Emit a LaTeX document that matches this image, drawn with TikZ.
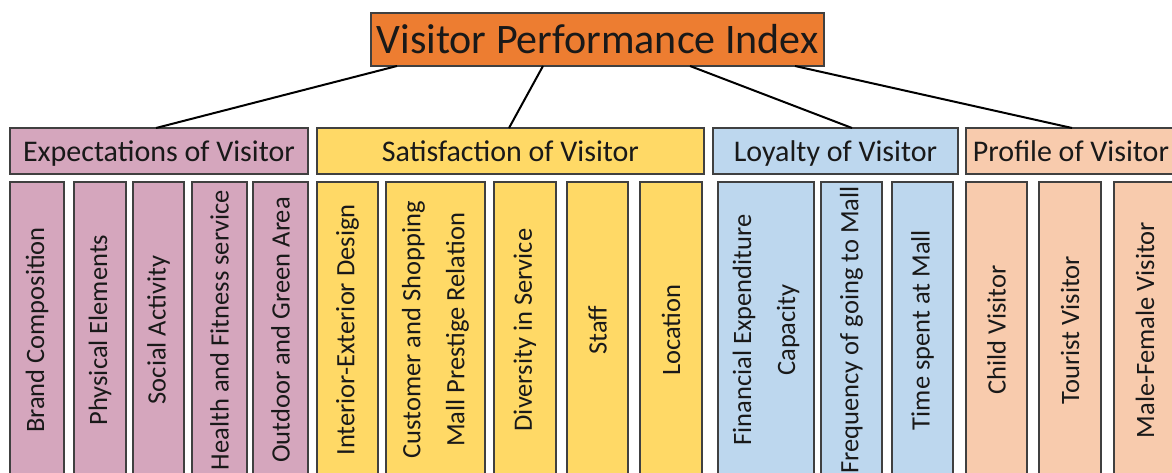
\documentclass[tikz,border=0pt]{standalone}
\usepackage{fontspec}
\setmainfont{Carlito}
\usetikzlibrary{calc}
\definecolor{vpiorange}{HTML}{ED7D31}
\definecolor{exppink}{HTML}{D5A6BD}
\definecolor{satyellow}{HTML}{FFD966}
\definecolor{loyblue}{HTML}{BDD7EE}
\definecolor{propeach}{HTML}{F8CBAD}
\definecolor{edgegray}{HTML}{404040}
\begin{document}
\begin{tikzpicture}[x=1pt,y=-1pt,
  box/.style={draw=edgegray, line width=1.3pt, inner sep=0pt, outer sep=0pt, text=black!90},
  titlebox/.style={box, fill=vpiorange, minimum width=453pt, minimum height=53pt,
    font=\fontsize{42}{46}\selectfont},
  headbox/.style={box, minimum height=46pt, text depth=0pt, font=\fontsize{30}{34}\selectfont},
  leafbox/.style={box, rotate=90, minimum width=296pt, align=center,
    font=\fontsize{26.5}{44}\selectfont},
  link/.style={draw=black, line width=2pt}
]
\useasboundingbox (0,0) rectangle (1172,473);
\clip (0,0) rectangle (1172,473);

% root
\node[titlebox] (vpi) at (597.5,39.5) {Visitor Performance Index};

% category headers
\node[headbox, fill=exppink,   minimum width=298pt] (exp) at (159,151)   {Expectations of Visitor};
\node[headbox, fill=satyellow, minimum width=387pt] (sat) at (510.5,151) {Satisfaction of Visitor};
\node[headbox, fill=loyblue,   minimum width=245pt] (loy) at (835.5,151) {Loyalty of Visitor};
\node[headbox, fill=propeach,  minimum width=210pt] (pro) at (1071,151)  {Profile of Visitor};

% expectations
\node[leafbox, fill=exppink, minimum height=54pt] (e1) at (37,330)    {Brand Composition};
\node[leafbox, fill=exppink, minimum height=52pt] (e2) at (100,330)   {Physical Elements};
\node[leafbox, fill=exppink, minimum height=51pt] (e3) at (158.5,330) {Social Activity};
\node[leafbox, fill=exppink, minimum height=55pt] (e4) at (219.5,330) {Health and Fitness service};
\node[leafbox, fill=exppink, minimum height=55pt] (e5) at (280.5,330) {Outdoor and Green Area};

% satisfaction
\node[leafbox, fill=satyellow, minimum height=61pt] (s1) at (347.5,330) {Interior-Exterior Design};
\node[leafbox, fill=satyellow, minimum height=99pt] (s2) at (435.5,330) {Customer and Shopping\\Mall Prestige Relation};
\node[leafbox, fill=satyellow, minimum height=62pt] (s3) at (525,330)   {Diversity in Service};
\node[leafbox, fill=satyellow, minimum height=61pt] (s4) at (597.5,330) {Staff};
\node[leafbox, fill=satyellow, minimum height=62pt] (s5) at (671,330)   {Location};

% loyalty
\node[leafbox, fill=loyblue, minimum height=96pt] (l1) at (766,330)   {Financial Expenditure\\Capacity};
\node[leafbox, fill=loyblue, minimum height=61pt] (l2) at (851.5,330) {Frequency of going to Mall};
\node[leafbox, fill=loyblue, minimum height=61pt] (l3) at (922.5,330) {Time spent at Mall};

% profile
\node[leafbox, fill=propeach, minimum height=61pt] (p1) at (996.5,330)  {Child Visitor};
\node[leafbox, fill=propeach, minimum height=62pt] (p2) at (1070,330)   {Tourist Visitor};
\node[leafbox, fill=propeach, minimum height=62pt] (p3) at (1145,330)   {Male-Female Visitor};

% connectors from the root to each header
\draw[link] ($(vpi.south west)+(26,0)$)  -- ($(exp.north west)+(146,0)$);
\draw[link] ($(vpi.south west)+(172,0)$) -- ($(sat.north west)+(192,0)$);
\draw[link] ($(vpi.south west)+(319,0)$) -- ($(loy.north west)+(139,0)$);
\draw[link] ($(vpi.south west)+(424,0)$) -- ($(pro.north west)+(106,0)$);
\end{tikzpicture}
\end{document}
